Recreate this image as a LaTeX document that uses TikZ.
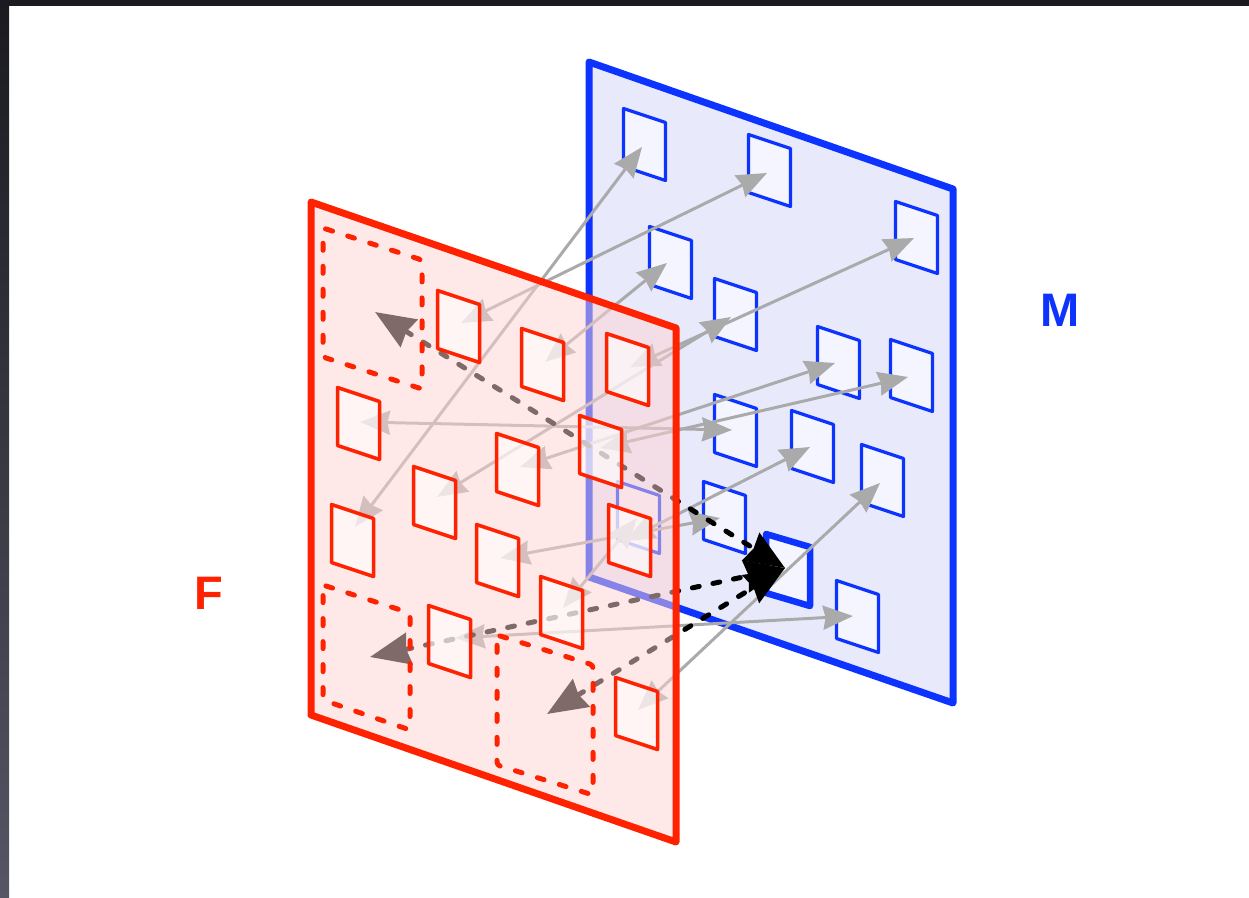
\documentclass[tikz,border=0pt]{standalone}
\usepackage{fontspec}
\setmainfont{Liberation Sans}
\usetikzlibrary{arrows.meta}
\definecolor{fred}{RGB}{255,34,0}
\definecolor{fblue}{RGB}{13,51,255}
\definecolor{panelblue}{RGB}{232,234,252}
\definecolor{sqblue}{RGB}{244,245,254}
\definecolor{panelred}{RGB}{255,211,211}
\definecolor{arrgray}{RGB}{170,170,170}
\definecolor{framedark}{RGB}{26,26,32}
\definecolor{framelight}{RGB}{85,85,100}
\newcommand\sqpath[2]{(#1+1.5,#2+1.5) -- ++(42,14) -- ++(0,58) -- ++(-42,-14) -- cycle}
\begin{document}
\begin{tikzpicture}[x=1pt,y=-1pt,line join=round,
  bsq/.style={draw=fblue,line width=3.2pt,fill=sqblue},
  rsq/.style={draw=fred,line width=3.5pt,fill=white,fill opacity=0.6},
  rbox/.style={draw=fred,line width=5pt,line cap=round,dash pattern=on 7pt off 16pt,rounded corners=3pt},
  garrow/.style={draw=arrgray,line width=3pt,
    {Stealth[length=30pt,width=24pt,inset=2.5pt]}-{Stealth[length=30pt,width=24pt,inset=2.5pt]}},
  karrow/.style={draw=black,line width=5pt,line cap=round,dash pattern=on 7pt off 14pt,
    {Stealth[length=40pt,width=32pt,inset=3pt]}-{Stealth[length=40pt,width=32pt,inset=3pt]}},
  lbl/.style={font=\bfseries\fontsize{47}{50}\selectfont,inner sep=0pt}]
\useasboundingbox (0,0) rectangle (1249,897);
\fill[white] (0,0) rectangle (1249,897);
\shade[top color=framedark,bottom color=framelight] (0,0) rectangle (9,897);
\fill[framedark] (0,0) rectangle (1249,6);

% blue panel M
\filldraw[fill=panelblue,draw=fblue,line width=7pt] (589,62) -- (953,189) -- (953,703) -- (589,577) -- cycle;
\foreach \x/\y in {622/107,747/133,894/200,648/225,713/277,816/325,889/338,713/393,790/409,860/443,702/480,835/579,616/480}
  \draw[bsq] \sqpath{\x}{\y};
\draw[bsq,line width=6.5pt] (766,534) -- ++(44,13) -- ++(0,59) -- ++(-44,-13) -- cycle;

% end points
\coordinate (r1) at (461,323);  \coordinate (r2) at (545,362);  \coordinate (r3) at (630,367);
\coordinate (r4) at (360,422);  \coordinate (r5) at (600,448);  \coordinate (r6) at (520,467);
\coordinate (r7) at (437,497);  \coordinate (r8) at (355,527);  \coordinate (r9) at (500,558);
\coordinate (r10) at (625,541); \coordinate (r11) at (563,608); \coordinate (r12) at (455,638);
\coordinate (r13) at (638,710);
\coordinate (b1) at (642,147);  \coordinate (b2) at (767,173);  \coordinate (b3) at (914,238);
\coordinate (b4) at (667,263);  \coordinate (b5) at (731,317);  \coordinate (b6) at (835,363);
\coordinate (b7) at (908,377);  \coordinate (b8) at (732,430);  \coordinate (b9) at (810,447);
\coordinate (b10) at (880,483); \coordinate (b11) at (720,518); \coordinate (b13) at (853,616);
\coordinate (b14) at (637,518);
\coordinate (ka) at (375,312);  \coordinate (kb) at (370,657);  \coordinate (kc) at (547,714);
\coordinate (hb) at (785,568);

% gray correspondences
\draw[garrow] (r8) -- (b1);
\draw[garrow] (r1) -- (b2);
\draw[garrow] (r2) -- (b4);
\draw[garrow] (r3) -- (b3);
\draw[garrow] (r7) -- (b5);
\draw[garrow] (r4) -- (b8);
\draw[garrow] (r5) -- (b7);
\draw[garrow] (r6) -- (b6);
\draw[garrow] (r9) -- (b11);
\draw[garrow] (r10) -- (b9);
\draw[garrow] (r12) -- (b13);
\draw[garrow] (r13) -- (b10);
\draw[garrow] (r11) -- (b14);

% black dashed correspondences
\draw[karrow] (ka) -- (hb);
\draw[karrow] (kb) -- (hb);
\draw[karrow] (kc) -- (hb);

% red panel F
\fill[panelred,opacity=0.5] (311,202) -- (676,328) -- (676,842) -- (311,715) -- cycle;
\draw[fred,line width=7pt] (311,202) -- (676,328) -- (676,842) -- (311,715) -- cycle;
\foreach \x/\y in {436/289,520/327,605/332,336/386,578/414,495/432,412/465,330/503,475/523,607/503,539/575,427/604,614/676}
  \draw[rsq] \sqpath{\x}{\y};
\draw[rbox] (323,228) -- (422,260) -- (422,389) -- (323,357) -- cycle;
\draw[rbox] (323,585) -- (410,613) -- (410,730) -- (323,700) -- cycle;
\draw[rbox] (497,635) -- (593,665) -- (593,795) -- (497,765) -- cycle;

\node[lbl,text=fblue] (M) at (1060,310) {M};
\node[lbl,text=fred] (F) at (209,593) {F};
\end{tikzpicture}
\end{document}
